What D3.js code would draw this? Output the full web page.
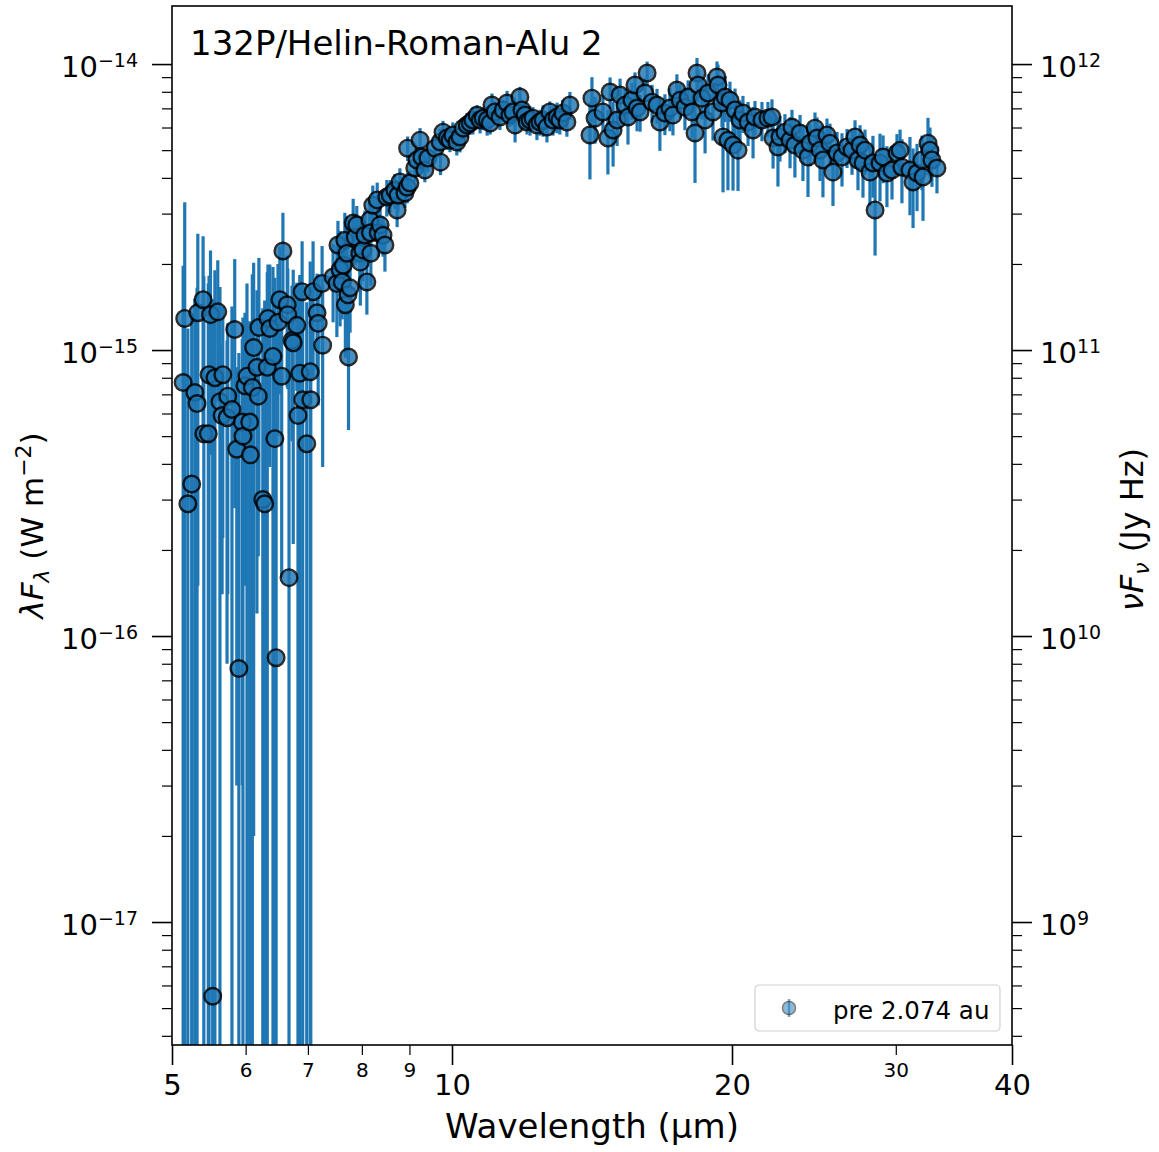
<!DOCTYPE html>
<html>
<head>
<meta charset="utf-8">
<script src="https://cdn.jsdelivr.net/npm/d3@7"></script>
<style>
  body { margin: 0; background: #fff; }
  text { font-family: 'DejaVu Sans', sans-serif; }
</style>
</head>
<body>
<div id="chart"></div>
<script>
// ----------- DATA (flux and error in units of 1e-15 W m^-2) ------------
// SL2 part, 5.1 - 7.3 um
const sl2Wave = [5.14, 5.16, 5.20, 5.25, 5.29, 5.32, 5.33, 5.40, 5.41, 5.47, 5.48, 5.50, 5.53, 5.56, 5.60, 5.63, 5.66, 5.67, 5.73, 5.74, 5.80, 5.84, 5.87, 5.90, 5.95, 5.96, 5.99, 6.02, 6.06, 6.07, 6.10, 6.12, 6.17, 6.19, 6.20, 6.26, 6.29, 6.33, 6.34, 6.37, 6.42, 6.45, 6.47, 6.50, 6.53, 6.56, 6.58, 6.65, 6.66, 6.68, 6.73, 6.75, 6.81, 6.83, 6.86, 6.90, 6.91, 6.98, 7.04, 7.05, 7.09, 7.16, 7.18, 7.25, 7.26];
const sl2Flux = [0.77, 1.29, 0.29, 0.34, 0.71, 0.65, 1.35, 1.50, 0.51, 0.51, 0.82, 1.33, 0.0055, 0.80, 1.36, 0.66, 0.59, 0.82, 0.58, 0.69, 0.62, 1.18, 0.45, 0.077, 0.56, 0.50, 0.75, 0.81, 0.56, 0.43, 0.74, 1.02, 0.87, 0.69, 1.20, 0.30, 0.29, 0.87, 1.29, 1.19, 0.95, 0.49, 0.084, 1.25, 1.50, 0.81, 2.22, 1.44, 1.33, 0.16, 1.08, 1.06, 1.22, 0.59, 0.83, 1.60, 0.67, 0.47, 0.84, 0.67, 1.60, 1.35, 1.24, 1.71, 1.04];
const sl2Err = [1.2, 2.0, 0.9, 1.0, 0.8, 1.0, 1.2, 1.0, 1.3, 1.2, 1.0, 0.9, 1.5, 1.1, 0.7, 1.0, 0.45, 0.6, 0.5, 0.55, 0.8, 0.9, 0.42, 0.9, 0.53, 0.8, 0.6, 0.9, 0.7, 0.6, 1.1, 1.0, 0.75, 0.5, 0.9, 1.1, 1.2, 1.0, 0.7, 0.8, 1.0, 1.3, 1.1, 0.75, 0.8, 0.65, 0.8, 0.7, 0.6, 1.1, 0.6, 0.85, 0.5, 0.9, 1.0, 0.8, 1.0, 1.0, 1.2, 0.9, 0.8, 0.5, 0.6, 0.6, 0.65];

// SL1 part, 7.4 - 13.4 um
const sl1Wave = [7.45, 7.52, 7.54, 7.58, 7.62, 7.64, 7.67, 7.68, 7.71, 7.73, 7.74, 7.77, 7.83, 7.87, 7.90, 7.96, 7.97, 8.02, 8.06, 8.10, 8.16, 8.17, 8.18, 8.22, 8.31, 8.33, 8.37, 8.43, 8.47, 8.51, 8.58, 8.68, 8.73, 8.75, 8.79, 8.90, 8.95, 8.96, 9.01, 9.12, 9.17, 9.24, 9.28, 9.35, 9.42, 9.59, 9.71, 9.72, 9.78, 9.88, 9.95, 10.02, 10.12, 10.20, 10.28, 10.38, 10.46, 10.53, 10.64, 10.72, 10.80, 10.91, 10.99, 11.04, 11.12, 11.26, 11.35, 11.46, 11.54, 11.63, 11.69, 11.83, 11.89, 11.98, 12.04, 12.13, 12.22, 12.34, 12.43, 12.53, 12.65, 12.74, 12.84, 12.97, 13.06, 13.16, 13.29, 13.39];
const sl1Flux = [1.80, 1.71, 2.33, 1.91, 1.73, 1.98, 2.42, 1.44, 2.18, 1.56, 0.945, 1.65, 2.78, 2.48, 2.74, 2.18, 2.03, 2.24, 2.52, 1.73, 2.85, 2.57, 2.18, 3.21, 3.35, 2.57, 2.74, 2.52, 2.33, 3.43, 3.48, 3.62, 3.09, 3.48, 3.87, 3.54, 3.71, 5.08, 3.84, 4.33, 4.62, 5.42, 4.73, 4.26, 4.69, 5.08, 5.34, 4.54, 5.78, 5.51, 5.42, 5.65, 5.34, 5.56, 5.97, 6.12, 6.22, 6.37, 6.63, 6.37, 6.47, 6.37, 6.22, 7.19, 6.80, 6.53, 6.91, 7.31, 6.63, 6.80, 6.12, 7.67, 6.91, 6.63, 6.27, 6.37, 6.47, 6.12, 6.27, 6.37, 6.02, 6.80, 6.37, 6.53, 6.37, 6.74, 6.27, 7.19];
const sl1Err = [0.55, 0.6, 0.5, 0.7, 0.45, 0.55, 0.6, 0.5, 0.75, 0.55, 0.42, 0.5, 0.6, 0.5, 0.45, 0.55, 0.6, 0.5, 0.55, 0.4, 0.5, 0.45, 0.5, 0.55, 0.5, 0.45, 0.5, 0.4, 0.45, 0.5, 0.45, 0.5, 0.4, 0.45, 0.45, 0.4, 0.45, 0.5, 0.4, 0.45, 0.45, 0.55, 0.45, 0.4, 0.5, 0.5, 0.6, 0.45, 0.55, 0.5, 0.5, 0.6, 0.55, 0.65, 0.5, 0.6, 0.55, 0.7, 0.55, 0.65, 0.6, 0.75, 0.55, 0.7, 0.6, 0.65, 0.6, 0.75, 0.6, 0.7, 0.8, 0.65, 0.6, 0.7, 0.6, 0.75, 0.6, 0.7, 0.65, 0.8, 0.7, 0.6, 0.75, 0.8, 0.7, 0.75, 0.7, 0.8];

// LL part, 14 - 33.2 um
const llWave = [14.07, 14.14, 14.25, 14.53, 14.71, 14.79, 14.90, 15.05, 15.16, 15.35, 15.46, 15.61, 15.73, 15.81, 15.93, 16.12, 16.21, 16.41, 16.61, 16.73, 16.94, 17.15, 17.28, 17.45, 17.59, 17.80, 17.94, 18.12, 18.25, 18.34, 18.39, 18.57, 18.71, 18.85, 19.08, 19.27, 19.32, 19.51, 19.56, 19.66, 19.80, 19.90, 20.05, 20.15, 20.30, 20.40, 20.55, 20.81, 21.07, 21.17, 21.54, 21.86, 22.08, 22.14, 22.41, 22.52, 22.80, 23.09, 23.20, 23.37, 23.67, 23.84, 24.14, 24.26, 24.56, 24.68, 24.87, 25.05, 25.30, 25.49, 25.68, 25.94, 26.26, 26.59, 26.92, 27.12, 27.32, 27.46, 27.66, 27.80, 28.14, 28.35, 28.50, 28.85, 29.07, 29.35, 29.72, 30.09, 30.32, 30.46, 31.07, 31.31, 31.62, 32.01, 32.09, 32.49, 32.65, 32.81, 33.22];
const llFlux = [5.65, 7.60, 6.47, 6.80, 5.51, 7.98, 5.88, 6.37, 7.79, 7.19, 6.53, 7.48, 8.45, 7.02, 6.80, 7.92, 9.30, 7.36, 7.19, 6.27, 6.74, 7.02, 6.63, 8.11, 7.48, 7.07, 7.67, 6.80, 5.74, 9.30, 8.45, 7.60, 6.37, 7.92, 6.80, 9.01, 8.45, 7.31, 5.56, 7.67, 5.42, 7.48, 5.21, 6.91, 5.00, 6.37, 6.74, 6.27, 5.88, 6.53, 6.37, 6.47, 6.53, 5.51, 5.13, 5.56, 5.78, 5.42, 6.02, 5.21, 5.74, 5.00, 4.73, 5.29, 5.97, 5.51, 5.00, 4.62, 5.65, 5.29, 4.19, 4.89, 4.73, 5.13, 5.00, 5.56, 4.62, 5.21, 4.51, 5.00, 4.19, 4.51, 3.09, 4.51, 4.73, 4.16, 4.26, 4.89, 5.00, 4.36, 4.26, 3.87, 4.16, 4.62, 4.03, 5.29, 5.00, 4.62, 4.33];
const llErr = [1.7, 1.4, 1.2, 1.0, 1.4, 1.0, 1.5, 1.2, 1.1, 1.0, 1.3, 1.1, 0.9, 1.2, 1.0, 1.0, 0.9, 1.1, 1.0, 1.3, 1.1, 1.2, 1.0, 1.1, 1.0, 1.2, 1.1, 1.3, 1.9, 1.2, 1.1, 1.2, 1.5, 1.3, 1.4, 1.2, 1.5, 1.3, 2.0, 1.4, 1.8, 1.2, 1.6, 1.3, 1.4, 1.1, 1.0, 1.1, 1.2, 0.9, 1.0, 0.9, 1.0, 1.2, 1.4, 1.0, 0.9, 1.1, 0.9, 1.2, 0.9, 1.1, 1.3, 0.9, 0.8, 1.0, 1.1, 1.2, 0.8, 0.9, 1.0, 0.9, 1.0, 0.8, 0.9, 0.8, 1.0, 0.9, 1.1, 0.9, 1.0, 1.1, 0.95, 1.2, 0.9, 1.0, 0.9, 0.8, 0.9, 1.1, 1.3, 1.2, 1.1, 1.0, 1.2, 1.2, 1.0, 0.9, 0.8];

const FLUX_UNIT = 1e-15; // W m^-2
const JY_HZ = 1e-26; // 1 Jy Hz in W m^-2

// ----------- TICKS / TEXT ------------
const xMajorTicks = [5, 10, 20, 40];
const xMinorTicks = [6, 7, 8, 9, 30];
const leftMajorTicks = [1e-17, 1e-16, 1e-15, 1e-14];
const rightMajorTicks = [1e9, 1e10, 1e11, 1e12];
const titleText = '132P/Helin-Roman-Alu 2';
const legendText = 'pre 2.074 au';

const segments = [
  [sl2Wave, sl2Flux, sl2Err],
  [sl1Wave, sl1Flux, sl1Err],
  [llWave, llFlux, llErr],
];
const points = [];
segments.forEach(([w, f, e]) => {
  if (w.length !== f.length || w.length !== e.length) console.log('length mismatch', w.length, f.length, e.length);
  w.forEach((wl, i) => points.push({ wave: wl, flux: f[i] * FLUX_UNIT, err: e[i] * FLUX_UNIT }));
});

// ----------- SVG ------------
const width = 1159;
const height = 1152;
const margin = { top: 6, right: 147, bottom: 107, left: 172 };
const innerW = width - margin.left - margin.right;
const innerH = height - margin.top - margin.bottom;

const svg = d3
  .select('#chart')
  .append('svg')
  .attr('width', width)
  .attr('height', height)
  .style('background', '#fff');

const g = svg.append('g').attr('transform', `translate(${margin.left}, ${margin.top})`);

// ----------- SCALES ------------
const x = d3.scaleLog().domain([5, 40]).range([0, innerW]);
const y = d3.scaleLog().domain([3.715e-18, 1.596e-14]).range([innerH, 0]);
const yRight = d3
  .scaleLog()
  .domain(y.domain().map((v) => v / JY_HZ))
  .range([innerH, 0]);

function minorLogTicks(scale) {
  const [lo, hi] = scale.domain();
  const out = [];
  for (let e = Math.floor(Math.log10(lo)); e <= Math.ceil(Math.log10(hi)); e++) {
    for (let m = 2; m <= 9; m++) {
      const v = m * Math.pow(10, e);
      if (v > lo && v < hi) out.push(v);
    }
  }
  return out;
}

function expLabel(v) {
  const e = Math.round(Math.log10(v));
  return e < 0 ? '\u2212' + Math.abs(e) : String(e);
}

function tickGroup(axis, values, size, strokeWidth, transform) {
  const a = g
    .append('g')
    .attr('transform', transform || null)
    .call(axis.tickValues(values).tickSize(size).tickSizeOuter(0).tickFormat(''));
  a.select('.domain').remove();
  a.selectAll('.tick line').attr('stroke', '#000').attr('stroke-width', strokeWidth);
  return a;
}

// ----------- AXES ------------
const leftMajor = tickGroup(d3.axisLeft(y), leftMajorTicks, 20, 1.6);
tickGroup(d3.axisLeft(y), minorLogTicks(y), 10, 1.2);

leftMajor
  .selectAll('.tick')
  .append('text')
  .attr('x', -34)
  .attr('y', 12)
  .attr('text-anchor', 'end')
  .attr('fill', '#000')
  .style('font-size', '29px')
  .each(function (d) {
    const t = d3.select(this);
    t.append('tspan').text('10');
    t.append('tspan').attr('dy', -10).style('font-size', '19px').text(expLabel(d));
  });

const rightMajor = tickGroup(d3.axisRight(yRight), rightMajorTicks, 20, 1.6, `translate(${innerW}, 0)`);
tickGroup(d3.axisRight(yRight), minorLogTicks(yRight), 10, 1.2, `translate(${innerW}, 0)`);

rightMajor
  .selectAll('.tick')
  .append('text')
  .attr('x', 28)
  .attr('y', 12)
  .attr('text-anchor', 'start')
  .attr('fill', '#000')
  .style('font-size', '29px')
  .each(function (d) {
    const t = d3.select(this);
    t.append('tspan').text('10');
    t.append('tspan').attr('dy', -10).style('font-size', '19px').text(expLabel(d));
  });

const bottomMajor = tickGroup(d3.axisBottom(x), xMajorTicks, 20, 1.6, `translate(0, ${innerH})`);
const bottomMinor = tickGroup(d3.axisBottom(x), xMinorTicks, 10, 1.2, `translate(0, ${innerH})`);

bottomMajor
  .selectAll('.tick')
  .append('text')
  .attr('y', 50)
  .attr('text-anchor', 'middle')
  .attr('fill', '#000')
  .style('font-size', '29px')
  .text((d) => d);

bottomMinor
  .selectAll('.tick')
  .append('text')
  .attr('y', 32)
  .attr('text-anchor', 'middle')
  .attr('fill', '#000')
  .style('font-size', '20px')
  .text((d) => d);

// ----------- DATA ------------
svg
  .append('defs')
  .append('clipPath')
  .attr('id', 'plot-clip')
  .append('rect')
  .attr('width', innerW)
  .attr('height', innerH);

const plot = g.append('g').attr('clip-path', 'url(#plot-clip)');

// error bars, lower end runs off the bottom when flux - err <= 0
plot
  .append('g')
  .attr('class', 'errorbars')
  .selectAll('line')
  .data(points)
  .enter()
  .append('line')
  .attr('x1', (d) => x(d.wave))
  .attr('x2', (d) => x(d.wave))
  .attr('y1', (d) => y(d.flux + d.err))
  .attr('y2', (d) => (d.flux - d.err > 0 ? y(d.flux - d.err) : innerH + 10))
  .attr('stroke', '#1f77b4')
  .attr('stroke-width', 3.2);

plot
  .append('g')
  .attr('class', 'markers')
  .selectAll('circle')
  .data(points)
  .enter()
  .append('circle')
  .attr('cx', (d) => x(d.wave))
  .attr('cy', (d) => y(d.flux))
  .attr('r', 8.3)
  .attr('fill', '#1f77b4')
  .attr('stroke', '#000')
  .attr('stroke-width', 2.4)
  .attr('opacity', 0.82);

// frame
g.append('rect')
  .attr('width', innerW)
  .attr('height', innerH)
  .attr('fill', 'none')
  .attr('stroke', '#000')
  .attr('stroke-width', 1.6);

// ----------- TEXT ------------
g.append('text')
  .attr('x', 18)
  .attr('y', 49)
  .attr('fill', '#000')
  .style('font-size', '34px')
  .text(titleText);

g.append('text')
  .attr('x', innerW / 2)
  .attr('y', innerH + 93)
  .attr('text-anchor', 'middle')
  .attr('fill', '#000')
  .style('font-size', '34px')
  .text('Wavelength (\u00b5m)');

const yLabel = svg
  .append('text')
  .attr('transform', `translate(43, ${margin.top + innerH / 2}) rotate(-90)`)
  .attr('text-anchor', 'middle')
  .attr('fill', '#000')
  .style('font-size', '31px');
yLabel.append('tspan').style('font-style', 'italic').text('\u03bbF');
yLabel.append('tspan').attr('dy', 6).style('font-style', 'italic').style('font-size', '22px').text('\u03bb');
yLabel.append('tspan').attr('dy', -6).text(' (W m');
yLabel.append('tspan').attr('dy', -12).style('font-size', '22px').text('\u22122');
yLabel.append('tspan').attr('dy', 12).text(')');

const yRLabel = svg
  .append('text')
  .attr('transform', `translate(1143, ${margin.top + innerH / 2 + 4}) rotate(-90)`)
  .attr('text-anchor', 'middle')
  .attr('fill', '#000')
  .style('font-size', '32px');
yRLabel.append('tspan').style('font-style', 'italic').text('\u03bdF');
yRLabel.append('tspan').attr('dy', 6).style('font-style', 'italic').style('font-size', '22px').text('\u03bd');
yRLabel.append('tspan').attr('dy', -6).text(' (Jy Hz)');

// ----------- LEGEND ------------
const legend = g.append('g').attr('transform', `translate(${innerW - 257}, ${innerH - 60})`);
legend
  .append('rect')
  .attr('width', 245)
  .attr('height', 46)
  .attr('rx', 4)
  .attr('fill', '#fff')
  .attr('fill-opacity', 0.8)
  .attr('stroke', '#d0d0d0')
  .attr('stroke-width', 1.2);
legend
  .append('line')
  .attr('x1', 34)
  .attr('x2', 34)
  .attr('y1', 14)
  .attr('y2', 32)
  .attr('stroke', '#1f77b4')
  .attr('stroke-width', 2.5)
  .attr('opacity', 0.6);
legend
  .append('circle')
  .attr('cx', 34)
  .attr('cy', 23)
  .attr('r', 6.5)
  .attr('fill', '#1f77b4')
  .attr('stroke', '#000')
  .attr('stroke-width', 1.5)
  .attr('opacity', 0.5);
legend
  .append('text')
  .attr('x', 78)
  .attr('y', 34)
  .attr('fill', '#000')
  .style('font-size', '24.5px')
  .text(legendText);
</script>
</body>
</html>
